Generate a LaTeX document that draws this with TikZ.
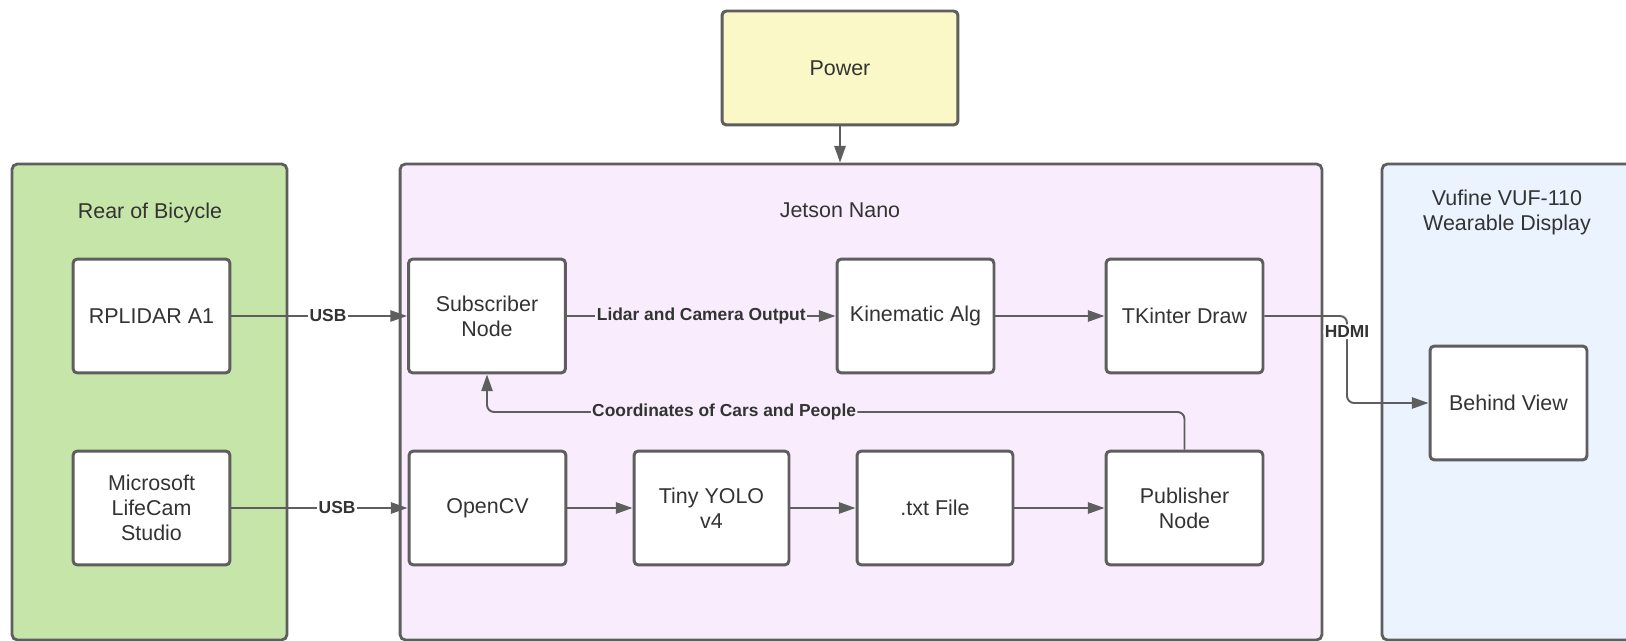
\documentclass[tikz,border=0pt]{standalone}
\usepackage{fontspec}
\setmainfont{Liberation Sans}
\usepackage{xcolor}
\usepackage{tikz}
\usetikzlibrary{arrows.meta,positioning,calc}
\definecolor{LCline}{HTML}{5E5E5E}
\definecolor{LCtext}{HTML}{333333}
\definecolor{LCgreen}{HTML}{C6E6A9}
\definecolor{LCpink}{HTML}{F9EDFD}
\definecolor{LCblue}{HTML}{EAF3FE}
\definecolor{LCyellow}{HTML}{FAF8C6}

\tikzset{
  group/.style={draw=LCline, line width=1.6pt, rounded corners=3pt, minimum height=9.52cm, inner sep=0pt},
  block/.style={draw=LCline, fill=white, line width=1.7pt, rounded corners=2.5pt,
    minimum width=3.14cm, minimum height=2.28cm, inner sep=0pt, align=center,
    text=LCtext, font=\fontsize{12.2}{14.2}\selectfont},
  title/.style={text=LCtext, align=center, font=\fontsize{12.2}{14.2}\selectfont},
  link/.style={draw=LCline, line width=1.1pt, -{Triangle[length=9.5pt,width=6.4pt]}},
  tag/.style={font=\fontsize{9.9}{11}\selectfont\bfseries, text=LCtext, inner sep=0.8pt},
}

\begin{document}
\begin{tikzpicture}[x=0.02cm, y=-0.02cm]
  \useasboundingbox (0,0) rectangle (1626,641);
  \clip (0,0) rectangle (1626,641);

  \node[group, fill=LCgreen, minimum width=5.5cm] (rear) at (149.5,402) {};
  \node[group, fill=LCpink, minimum width=18.44cm] (jetson) at (861,402) {};
  \node[group, fill=LCblue, minimum width=5.56cm] (vufine) at (1521,402) {};
  \node[block, fill=LCyellow, minimum width=4.72cm] (power) at (840,68) {Power};

  \node[title] (reartitle) at (150,213) {Rear of Bicycle};
  \node[title] (jetsontitle) at (840,210) {Jetson Nano};
  \node[title] (vufinetitle) at (1507,212) {Vufine VUF-110\\Wearable Display};

  \node[block] (rplidar) at (151.5,316) {RPLIDAR A1};
  \node[block] (lifecam) at (151.5,508) {Microsoft\\LifeCam\\Studio};
  \node[block] (subscriber) at (487,316) {Subscriber\\Node};
  \node[block] (kinematic) at (915.5,316) {Kinematic Alg};
  \node[block] (tkinter) at (1184.5,316) {TKinter Draw};
  \node[block] (opencv) at (487.5,508) {OpenCV};
  \node[block, minimum width=3.1cm] (yolo) at (711.5,508) {Tiny YOLO\\v4};
  \node[block, minimum width=3.12cm] (txtfile) at (935,508) {.txt File};
  \node[block] (publisher) at (1184.5,508) {Publisher\\Node};
  \node[block] (behind) at (1508.5,403) {Behind View};

  \draw[link] (power) -- (power |- jetson.north);
  \draw[link] (rplidar) -- node[tag, fill=white, pos=0.55] (usbtop) {USB} (subscriber);
  \draw[link] (lifecam) -- node[tag, fill=white, pos=0.6] (usbbottom) {USB} (opencv);
  \draw[link] (subscriber) -- node[tag, fill=LCpink] (lidartag) {Lidar and Camera Output} (kinematic);
  \draw[link] (kinematic) -- (tkinter);
  \draw[link] (opencv) -- (yolo);
  \draw[link] (yolo) -- (txtfile);
  \draw[link] (txtfile) -- (publisher);

  \coordinate (back) at (487,412);
  \draw[link, rounded corners=4pt] (publisher) |- node[tag, fill=LCpink, pos=0.83] (coordtag) {Coordinates of Cars and People} (back) -- (subscriber);

  \coordinate (hdmibend) at (1347,316);
  \draw[link, rounded corners=4pt] (tkinter) -- (hdmibend) |- node[tag, fill=white, pos=0.09] (hdmitag) {HDMI} (behind);
\end{tikzpicture}
\end{document}
